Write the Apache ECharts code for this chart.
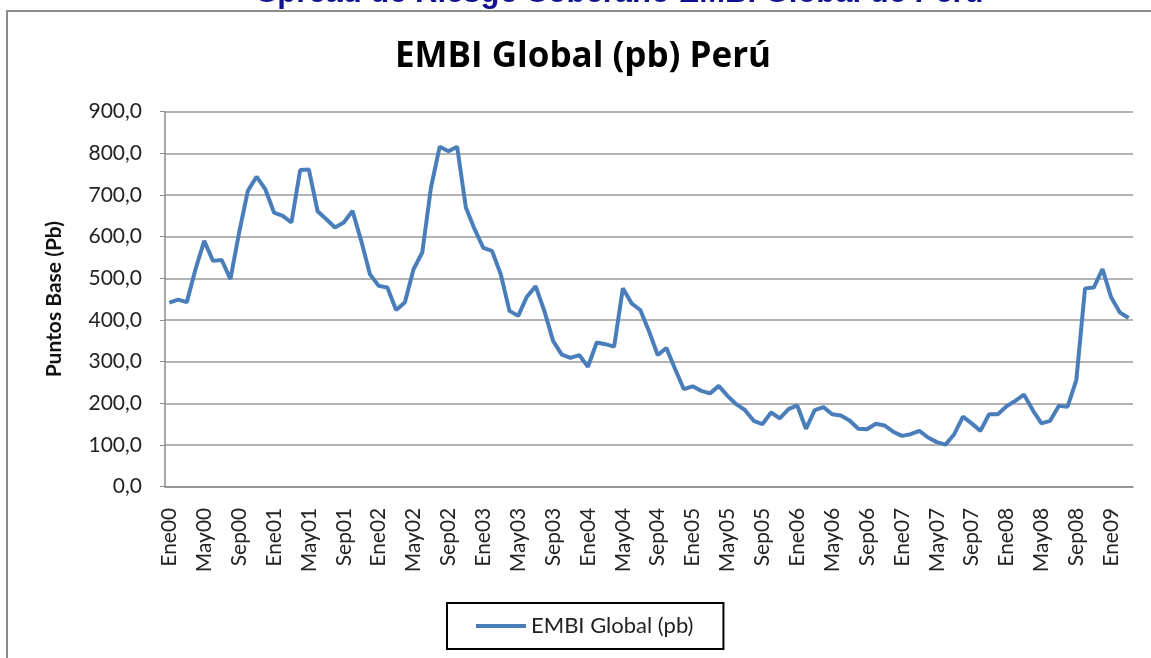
<!DOCTYPE html>
<html>
<head>
<meta charset="utf-8">
<script src="https://cdn.jsdelivr.net/npm/echarts@6/dist/echarts.min.js"></script>
<style>
  html, body { margin: 0; padding: 0; background: #fff; }
  #chart { width: 1151px; height: 658px; }
</style>
</head>
<body>
<div id="chart"></div>
<script>
// meses y años (Ene00 .. Mar09)
const monthNames = ['Ene', 'Feb', 'Mar', 'Abr', 'May', 'Jun', 'Jul', 'Ago', 'Sep', 'Oct', 'Nov', 'Dic']
const years = ['00', '01', '02', '03', '04', '05', '06', '07', '08', '09']
const lastYearMonths = 3

// EMBI Global Perú, puntos básicos
const embiValues = [
  442, 449, 443, 522, 590, 542, 544, 498, 610, 710, 744, 714,
  658, 650, 634, 760, 761, 661, 642, 622, 634, 662, 590, 510,
  482, 478, 424, 442, 522, 562, 718, 816, 805, 816, 670, 618,
  573, 566, 510, 422, 410, 456, 481, 422, 350, 317, 309, 316,
  288, 346, 342, 336, 476, 440, 424, 373, 316, 333, 282, 234,
  241, 230, 224, 242, 218, 198, 184, 158, 150, 178, 164, 186,
  195, 139, 184, 191, 174, 171, 159, 139, 138, 151, 147, 132,
  122, 126, 134, 118, 107, 101, 126, 168, 152, 134, 174, 174,
  193, 206, 221, 184, 152, 158, 194, 192, 256, 476, 478, 522,
  454, 418, 405
]

const yTicks = { min: 0, max: 900, interval: 100 }

const categories = []
years.forEach((y, yi) => {
  const n = yi === years.length - 1 ? lastYearMonths : 12
  for (let m = 0; m < n; m++) categories.push(monthNames[m] + y)
})

const font = 'Lato, "Open Sans", sans-serif'
const chart = echarts.init(document.getElementById('chart'))

const option = {
  animation: false,
  backgroundColor: '#fff',
  graphic: [
    {
      type: 'rect',
      shape: { x: 7, y: 11, width: 1160, height: 700 },
      style: { fill: 'none', stroke: '#8c8c8c', lineWidth: 2 },
      silent: true
    },
    {
      type: 'text',
      x: 620,
      y: 9,
      style: {
        text: 'Spread de Riesgo Soberano EMBI Global de Perú',
        fill: '#101090',
        font: 'bold 31px "Liberation Sans", Arial, sans-serif',
        align: 'center',
        verticalAlign: 'bottom'
      }
    },
    {
      type: 'text',
      x: 583,
      y: 57,
      style: {
        text: 'EMBI Global (pb) Perú',
        fill: '#000',
        font: 'bold 35px "Open Sans", sans-serif',
        align: 'center',
        verticalAlign: 'middle'
      }
    }
  ],
  grid: { left: 165, right: 18, top: 111.7, bottom: 171.3, containLabel: false },
  legend: {
    left: 447,
    top: 603,
    orient: 'horizontal',
    padding: [12, 30, 12, 29],
    borderColor: '#000',
    borderWidth: 2,
    icon: 'rect',
    itemWidth: 50,
    itemHeight: 4,
    textStyle: { fontFamily: font, fontSize: 22, color: '#222' },
    data: ['EMBI Global (pb)']
  },
  xAxis: {
    type: 'category',
    data: categories,
    boundaryGap: true,
    axisLine: { lineStyle: { color: '#8c8c8c', width: 1.5 } },
    axisTick: { show: false },
    axisLabel: {
      interval: 3,
      rotate: 90,
      margin: 21,
      fontFamily: font,
      fontSize: 21,
      color: '#222'
    }
  },
  yAxis: {
    type: 'value',
    min: yTicks.min,
    max: yTicks.max,
    interval: yTicks.interval,
    name: 'Puntos Base (Pb)',
    nameLocation: 'middle',
    nameGap: 100,
    nameTextStyle: { fontFamily: font, fontSize: 21, fontWeight: 'bold', color: '#111' },
    axisLine: { show: true, lineStyle: { color: '#8c8c8c', width: 1.5 } },
    axisTick: { show: true, length: 5, lineStyle: { color: '#8c8c8c' } },
    splitLine: { lineStyle: { color: '#9a9a9a', width: 1.5 } },
    axisLabel: {
      margin: 23,
      fontFamily: font,
      fontSize: 21,
      color: '#222',
      formatter: v => v.toFixed(1).replace('.', ',')
    }
  },
  series: [{
    name: 'EMBI Global (pb)',
    type: 'line',
    data: embiValues,
    symbol: 'none',
    lineStyle: { color: '#4a7ebb', width: 4 },
    itemStyle: { color: '#4a7ebb' }
  }]
}

chart.setOption(option)
</script>
</body>
</html>
